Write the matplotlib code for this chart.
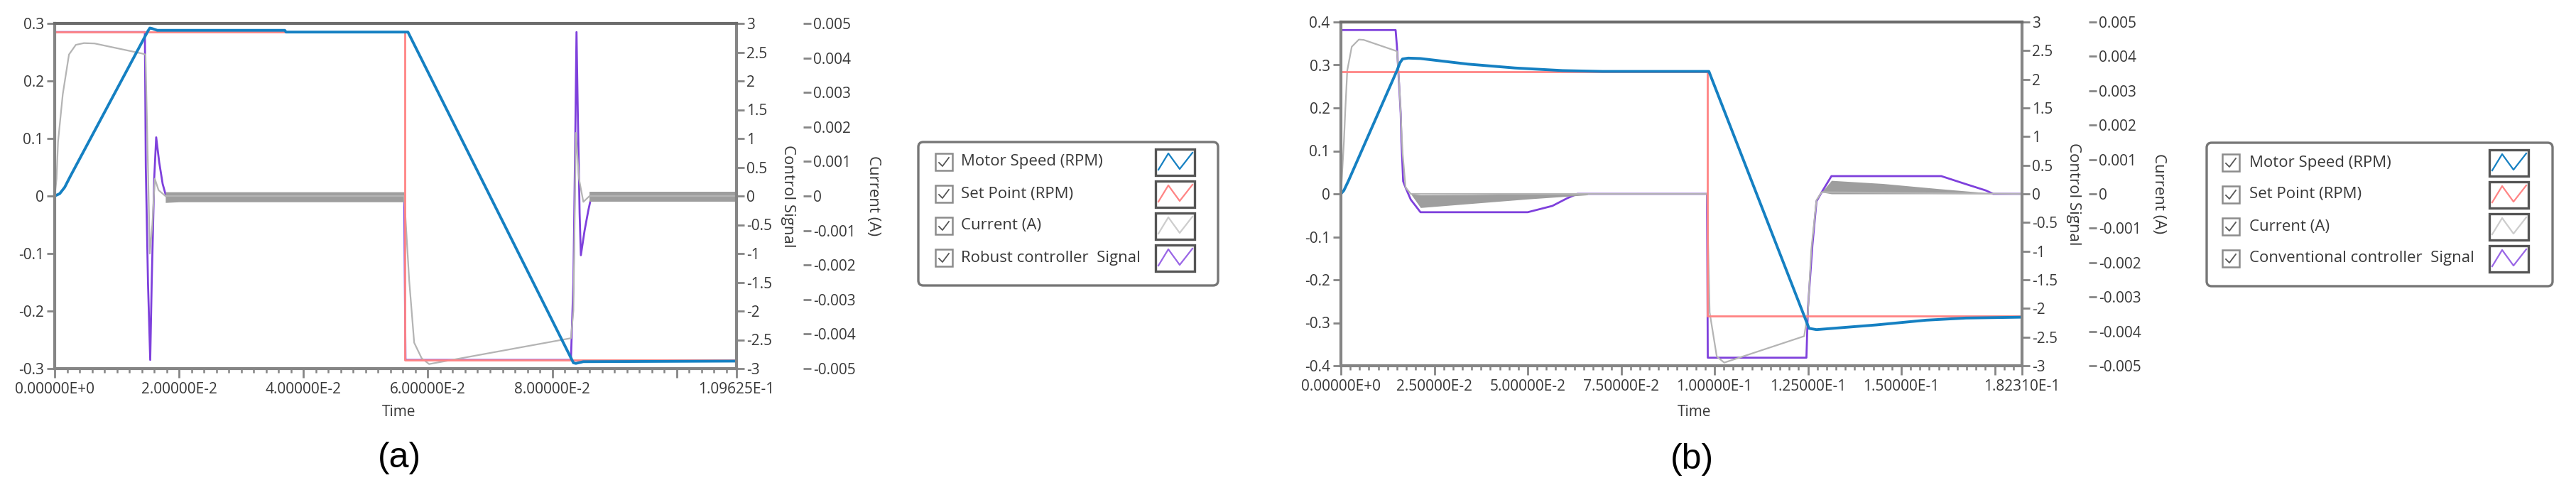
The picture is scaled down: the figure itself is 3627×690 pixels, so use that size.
import numpy as np
import matplotlib
matplotlib.use("Agg")
import matplotlib.pyplot as plt
from matplotlib.patches import FancyBboxPatch, Rectangle
from matplotlib.ticker import FixedLocator, MultipleLocator

plt.rcParams["font.family"] = ["Open Sans", "DejaVu Sans"]
plt.rcParams["axes.unicode_minus"] = False

W, H = 3627, 690

# ---------------- panel (a) : robust controller ----------------
ta_end = 0.109625
ta_set = [0, 0.0563, 0.0563, ta_end]
va_set = [0.285, 0.285, -0.285, -0.285]

ta_speed = [0, 0.0008, 0.0016, 0.0025, 0.0150, 0.0153, 0.0157, 0.0165, 0.037,
            0.0372, 0.0568, 0.0834, 0.0838, 0.0850, ta_end]
va_speed = [0, 0.004, 0.015, 0.034, 0.287, 0.292, 0.291, 0.288, 0.288,
            0.285, 0.285, -0.290, -0.291, -0.288, -0.287]

ta_cur = [0, 0.0003, 0.00054, 0.0013, 0.0023, 0.0034, 0.0047, 0.0064, 0.0140,
          0.0146, 0.0149, 0.0153, 0.0157, 0.0161, 0.0167, 0.0178, 0.0562,
          0.0570, 0.0578, 0.0590, 0.0602, 0.0830, 0.0834, 0.0838, 0.0843,
          0.0850, 0.0860, ta_end]
va_cur = [0, 0.0005, 0.00157, 0.00295, 0.0041, 0.00438, 0.00443, 0.00442, 0.00413,
          0.0041, 0.00167, -0.00167, -0.00083, 0.0005, 0.00017, 0, 0,
          -0.00245, -0.00425, -0.0047, -0.00487, -0.00412, -0.00333, 0.00183, 0.0005,
          -0.00017, 0, 0]

# ripple envelopes of the current (A)
ta_band1 = [0.0178, 0.0200, 0.0562]
ua_band1 = [0.00012, 0.00012, 0.00012]
la_band1 = [-0.00019, -0.00017, -0.00017]
ta_band2 = [0.0860, ta_end]
ua_band2 = [0.00012, 0.00012]
la_band2 = [-0.00017, -0.00017]

ta_sig = [0, 0.0145, 0.01465, 0.0150, 0.01536, 0.0156, 0.0160, 0.01632, 0.0168,
          0.01736, 0.0179, 0.0562, 0.0564, 0.0830, 0.0834, 0.0837, 0.0839,
          0.0841, 0.0844, 0.0846, 0.0852, 0.0858, 0.0863, ta_end]
va_sig = [2.85, 2.85, 0.5, -1.5, -2.85, -1.5, 0.3, 1.02, 0.59,
          0.21, 0.0, 0.0, -2.85, -2.85, -1.5, 1.0, 2.85,
          1.5, -0.3, -1.03, -0.6, -0.25, 0.0, 0.0]

# ---------------- panel (b) : conventional controller ----------------
tb_end = 0.18231
tb_set = [0, 0.0980, 0.0980, tb_end]
vb_set = [0.285, 0.285, -0.285, -0.285]

tb_speed = [0, 0.0008, 0.002, 0.00665, 0.0150, 0.0158, 0.0165, 0.018, 0.0213,
            0.034, 0.0466, 0.0593, 0.070, 0.0985, 0.1253, 0.1273, 0.1433,
            0.1566, 0.1673, tb_end]
vb_speed = [0, 0.008, 0.03, 0.122, 0.287, 0.305, 0.314, 0.316, 0.315,
            0.302, 0.293, 0.287, 0.285, 0.285, -0.313, -0.316, -0.305,
            -0.294, -0.289, -0.287]

tb_cur = [0, 0.0004, 0.0008, 0.0012, 0.0017, 0.0029, 0.0048, 0.0061, 0.0150,
          0.0156, 0.0165, 0.0173, 0.0187, 0.0980, 0.0987, 0.1006, 0.1026,
          0.1240, 0.1250, 0.1259, 0.1273, 0.1287, tb_end]
vb_cur = [0, 0.00075, 0.0015, 0.0025, 0.00359, 0.00428, 0.00449, 0.00448, 0.00415,
          0.00324, 0.0012, 0.00019, 0, 0, -0.00345, -0.00473, -0.00491,
          -0.00414, -0.00345, -0.00163, -0.00018, 0.00005, 0]

tb_band1 = [0.0187, 0.0213, 0.035, 0.050, 0.066]
ub_band1 = [0, -0.00003, -0.00002, 0, 0]
lb_band1 = [0, -0.0004, -0.00028, -0.00015, -0.00003]
tb_band2 = [0.1287, 0.1313, 0.145, 0.160, 0.174]
ub_band2 = [0.00005, 0.00039, 0.0003, 0.00015, 0.00002]
lb_band2 = [0.00005, 0, 0, 0, 0]

tb_sig = [0, 0.01464, 0.0150, 0.0160, 0.0162, 0.01666, 0.0173, 0.0187, 0.0213,
          0.050, 0.0566, 0.0606, 0.0633, 0.0980, 0.0982, 0.1246, 0.1250,
          0.1262, 0.1273, 0.1287, 0.1313, 0.1607, 0.1673, 0.1726, 0.1746, tb_end]
vb_sig = [2.86, 2.86, 2.57, 1.41, 0.92, 0.22, 0.11, -0.1, -0.32,
          -0.32, -0.21, -0.075, 0, 0, -2.86, -2.86, -2.0,
          -0.9, -0.13, 0.03, 0.31, 0.31, 0.17, 0.06, 0, 0]

names_a = ["Motor Speed (RPM)", "Set Point (RPM)", "Current (A)", "Robust controller  Signal"]
names_b = ["Motor Speed (RPM)", "Set Point (RPM)", "Current (A)", "Conventional controller  Signal"]

C_SPEED = "#1580C2"
C_SET = "#FF8484"
C_CUR = "#B4B4B4"
C_BAND = "#9E9E9E"
C_SIG = "#7E40DC"
C_AXIS = "#858585"
C_TEXT = "#383838"
swatch_colors = [C_SPEED, C_SET, "#CDCDCD", "#9A66E6"]


def fmt(v):
    v = float(np.round(v, 6)) + 0.0
    return f"{v:g}"


def sci(v):
    if v == 0:
        return "0.00000E+0"
    e = int(np.floor(np.log10(abs(v))))
    return f"{v / 10 ** e:.5f}E{e:+d}"


def make_panel(fig, box, t_end, x_major, x_hidden, x_minor, y_lim):
    x0, y0, x1, y1 = box
    ax = fig.add_axes([x0 / W, 1 - y1 / H, (x1 - x0) / W, (y1 - y0) / H])
    ax2 = ax.twinx()
    ax3 = ax.twinx()
    ax.set_zorder(3)
    ax2.set_zorder(1)
    ax3.set_zorder(2)
    for a in (ax, ax2, ax3):
        a.patch.set_visible(False)
    for a in (ax2, ax3):
        for s in a.spines.values():
            s.set_visible(False)
    for k, s in ax.spines.items():
        s.set_color("#6C6C6C" if k == "top" else C_AXIS)
        s.set_linewidth(3)
    ax3.spines["right"].set_position(("outward", 68))

    ax.set_xlim(0, t_end)
    xt = list(x_major) + [t_end]
    ax.xaxis.set_major_locator(FixedLocator(xt))
    ax.set_xticklabels(["" if v in x_hidden else sci(v) for v in xt])
    ax.xaxis.set_minor_locator(MultipleLocator(x_minor))

    ax.set_ylim(-y_lim, y_lim)
    yt = np.linspace(-y_lim, y_lim, int(round(2 * y_lim / 0.1)) + 1)
    ax.set_yticks(yt)
    ax.set_yticklabels([fmt(v) for v in yt])

    ax2.set_ylim(-3, 3)
    y2 = np.linspace(-3, 3, 13)
    ax2.set_yticks(y2)
    ax2.set_yticklabels([fmt(v) for v in y2])

    ax3.set_ylim(-0.005, 0.005)
    y3 = np.linspace(-0.005, 0.005, 11)
    ax3.set_yticks(y3)
    ax3.set_yticklabels([fmt(v) for v in y3])

    ax.tick_params(axis="y", length=8, width=2, color=C_AXIS, pad=3,
                   labelsize=15, labelcolor=C_TEXT)
    ax.tick_params(axis="x", which="major", length=9, width=2, color=C_AXIS,
                   pad=5, labelsize=15, labelcolor=C_TEXT)
    ax.tick_params(axis="x", which="minor", length=4.5, width=1.8, color=C_AXIS)
    for a in (ax2, ax3):
        a.tick_params(axis="y", length=8, width=2, color=C_AXIS, pad=2,
                      labelsize=15, labelcolor=C_TEXT)

    ax2.set_ylabel("Control Signal", rotation=270, fontsize=16, color=C_TEXT,
                   va="center", ha="center")
    ax2.yaxis.set_label_coords(1.076, 0.5)
    ax3.set_ylabel("Current (A)", rotation=270, fontsize=16, color=C_TEXT,
                   va="center", ha="center")
    ax3.yaxis.set_label_coords(1.201, 0.5)
    return ax, ax2, ax3


def draw_legend(ax, x0, y0, w, cb_off, sw_off, names):
    ax.add_patch(FancyBboxPatch((x0, y0), w, 202,
                                boxstyle="round,pad=0,rounding_size=7",
                                fc="white", ec="#767676", lw=2.4))
    for i, (name, col) in enumerate(zip(names, swatch_colors)):
        cy = y0 + 28 + 45 * i
        cb = x0 + cb_off
        ax.add_patch(Rectangle((cb, cy - 12), 24, 24, fc="white",
                               ec="#8C8C8C", lw=1.8))
        ax.plot([cb + 5, cb + 10, cb + 19], [cy + 1, cy + 6, cy - 6],
                color="#555555", lw=1.3)
        ax.text(x0 + 60, cy, name, va="center", ha="left", fontsize=16,
                color=C_TEXT)
        sx = x0 + sw_off
        ax.add_patch(Rectangle((sx, cy - 18), 55, 37, fc="white",
                               ec="#555555", lw=2.4))
        ax.plot([sx + 4, sx + 18, sx + 34, sx + 52],
                [cy + 11, cy - 12, cy + 10, cy - 13], color=col, lw=1.6)


fig = plt.figure(figsize=(W / 100, H / 100), dpi=100)
fig.patch.set_facecolor("white")

panels = [
    ((77, 33, 1037, 519), ta_end, [0, 0.02, 0.04, 0.06, 0.08, 0.1], [0.1], 0.002, 0.3,
     (ta_set, va_set, ta_speed, va_speed, ta_cur, va_cur, ta_sig, va_sig),
     [(ta_band1, ua_band1, la_band1), (ta_band2, ua_band2, la_band2)]),
    ((1888, 31, 2847, 515), tb_end,
     [0, 0.025, 0.05, 0.075, 0.1, 0.125, 0.15, 0.175], [0.175], 0.0025, 0.4,
     (tb_set, vb_set, tb_speed, vb_speed, tb_cur, vb_cur, tb_sig, vb_sig),
     [(tb_band1, ub_band1, lb_band1), (tb_band2, ub_band2, lb_band2)]),
]

for box, t_end, xmaj, xhid, xmin, ylim, series, bands in panels:
    ax, ax2, ax3 = make_panel(fig, box, t_end, xmaj, xhid, xmin, ylim)
    t_set, v_set, t_sp, v_sp, t_cu, v_cu, t_sg, v_sg = series
    ax2.plot(t_sg, v_sg, color=C_SIG, lw=2.0)
    for tt, uu, ll in bands:
        ax3.fill_between(tt, ll, uu, color=C_BAND, lw=0)
    ax3.plot(t_cu, v_cu, color=C_CUR, lw=1.6)
    ax.plot(t_set, v_set, color=C_SET, lw=2.0)
    ax.plot(t_sp, v_sp, color=C_SPEED, lw=2.8)

ov = fig.add_axes([0, 0, 1, 1], zorder=10)
ov.set_xlim(0, W)
ov.set_ylim(H, 0)
ov.axis("off")
ov.patch.set_visible(False)
draw_legend(ov, 1293, 200, 422, 24, 334, names_a)
draw_legend(ov, 3107, 201, 487, 22, 398, names_b)

fig.text(562 / W, 1 - 581 / H, "Time", ha="center", va="center", fontsize=15, color=C_TEXT)
fig.text(2386 / W, 1 - 580 / H, "Time", ha="center", va="center", fontsize=15, color=C_TEXT)
fig.text(562 / W, 1 - 645 / H, "(a)", ha="center", va="center", fontsize=36,
         family="Liberation Sans", color="black")
fig.text(2382 / W, 1 - 647 / H, "(b)", ha="center", va="center", fontsize=36,
         family="Liberation Sans", color="black")

fig.savefig("out.png", dpi=100, facecolor="white")
